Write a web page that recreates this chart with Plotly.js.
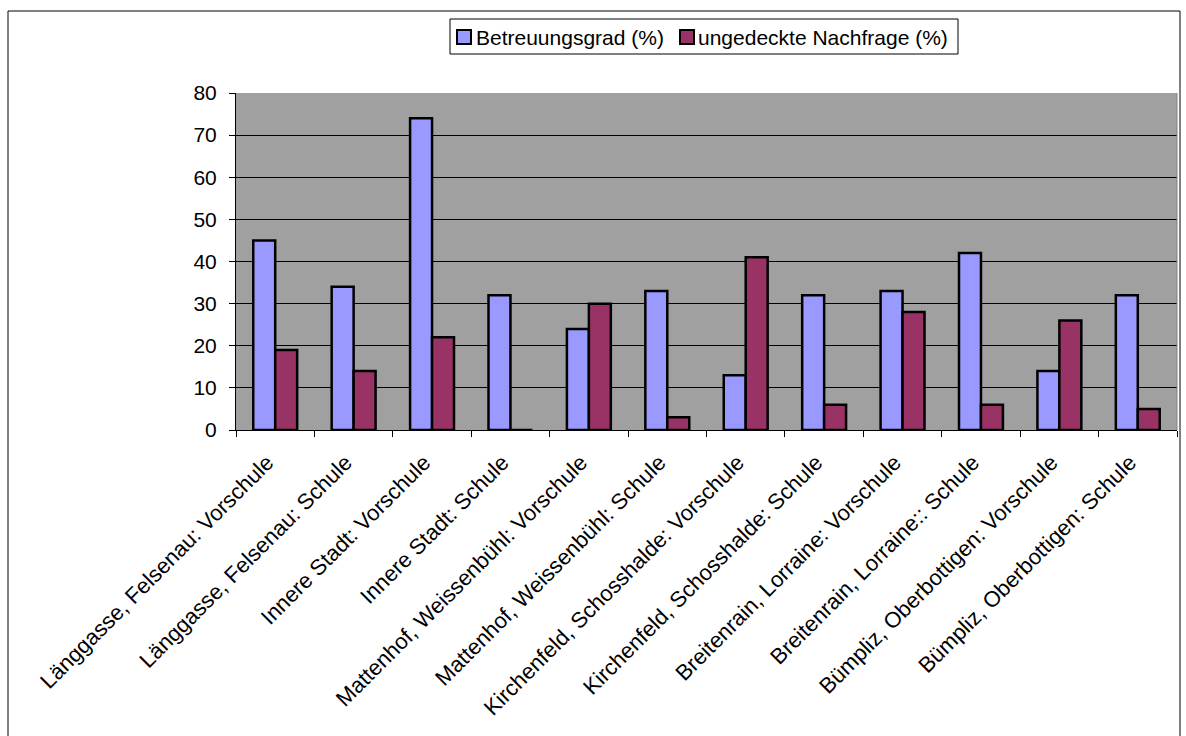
<!DOCTYPE html>
<html>
<head>
<meta charset="utf-8">
<script src="https://cdn.plot.ly/plotly-3.0.1.min.js"></script>
<style>
html,body{margin:0;padding:0;background:#fff;}
#chart{width:1186px;height:736px;}
</style>
</head>
<body>
<div id="chart"></div>
<script>
const categories = [
  "Länggasse, Felsenau: Vorschule",
  "Länggasse, Felsenau: Schule",
  "Innere Stadt: Vorschule",
  "Innere Stadt: Schule",
  "Mattenhof, Weissenbühl: Vorschule",
  "Mattenhof, Weissenbühl: Schule",
  "Kirchenfeld, Schosshalde: Vorschule",
  "Kirchenfeld, Schosshalde: Schule",
  "Breitenrain, Lorraine: Vorschule",
  "Breitenrain, Lorraine:: Schule",
  "Bümpliz, Oberbottigen: Vorschule",
  "Bümpliz, Oberbottigen: Schule"
];
const betreuungsgrad = [45, 34, 74, 32, 24, 33, 13, 32, 33, 42, 14, 32];
const ungedeckteNachfrage = [19, 14, 22, 0, 30, 3, 41, 6, 28, 6, 26, 5];
const seriesNames = ["Betreuungsgrad (%)", "ungedeckte Nachfrage (%)"];
const seriesColors = ["#9999FF", "#993366"];
const yTicks = [0, 10, 20, 30, 40, 50, 60, 70, 80];

const W = 1186, H = 736;
const L = 236, R = 1177, T = 93, B = 430;
const pw = R - L, ph = B - T;
function px(x){ return (x - L) / pw; }
function py(y){ return (B - y) / ph; }

const font = {family: "Liberation Sans, Arial, sans-serif", size: 21, color: "#000"};
const xfont = {family: "Liberation Sans, Arial, sans-serif", size: 22, color: "#000"};

const traces = [
  {type: "bar", name: seriesNames[0], x: categories, y: betreuungsgrad,
   marker: {color: seriesColors[0], line: {color: "#000", width: 2.5}}},
  {type: "bar", name: seriesNames[1], x: categories, y: ungedeckteNachfrage,
   marker: {color: seriesColors[1], line: {color: "#000", width: 2.5}}}
];

// manual legend (box, swatches, labels)
const legendShapes = [
  {type: "rect", xref: "paper", yref: "paper",
   x0: px(450), x1: px(958), y0: py(19), y1: py(54),
   line: {color: "#000", width: 1}, fillcolor: "#fff", layer: "above"},
  {type: "rect", xref: "paper", yref: "paper",
   x0: px(457), x1: px(471), y0: py(30), y1: py(44),
   line: {color: "#000", width: 2}, fillcolor: seriesColors[0], layer: "above"},
  {type: "rect", xref: "paper", yref: "paper",
   x0: px(680), x1: px(694), y0: py(30), y1: py(44),
   line: {color: "#000", width: 2}, fillcolor: seriesColors[1], layer: "above"}
];
const legendAnns = [
  {xref: "paper", yref: "paper", x: px(474), y: py(37), xanchor: "left", yanchor: "middle",
   text: seriesNames[0], showarrow: false, font: font},
  {xref: "paper", yref: "paper", x: px(696), y: py(37), xanchor: "left", yanchor: "middle",
   text: seriesNames[1], showarrow: false, font: font}
];

const layout = {
  width: W, height: H,
  margin: {l: L, r: W - R, t: T, b: H - B, pad: 0},
  paper_bgcolor: "#fff",
  plot_bgcolor: "#A0A0A0",
  font: font,
  barmode: "group",
  bargap: 0.44,
  bargroupgap: 0,
  showlegend: false,
  xaxis: {
    type: "category",
    tickangle: -45,
    ticks: "outside", ticklen: 6, tickcolor: "#000", tickwidth: 1,
    tickson: "boundaries",
    showline: true, linecolor: "#000", linewidth: 1,
    showgrid: false,
    tickfont: xfont,
    ticklabelstandoff: 10,
    ticklabelshift: -8,
    automargin: false
  },
  yaxis: {
    range: [0, 80],
    tickvals: yTicks,
    ticktext: yTicks.map(String),
    ticks: "outside", ticklen: 6, tickcolor: "#000", tickwidth: 1,
    showline: true, linecolor: "#000", linewidth: 1,
    showgrid: true, gridcolor: "#000", gridwidth: 1,
    zeroline: true, zerolinecolor: "#000", zerolinewidth: 1,
    tickfont: font,
    ticklabelstandoff: 8,
    automargin: false
  },
  annotations: legendAnns,
  shapes: [
    {type: "rect", xref: "paper", yref: "paper",
     x0: px(8), x1: px(1180), y0: py(11), y1: py(760),
     line: {color: "#000", width: 1}, fillcolor: "rgba(0,0,0,0)", layer: "below"},
    {type: "line", xref: "paper", yref: "paper",
     x0: 1, x1: 1, y0: 0, y1: 1,
     line: {color: "#808080", width: 1}, layer: "above"}
  ].concat(legendShapes)
};

Plotly.newPlot("chart", traces, layout, {displayModeBar: false, staticPlot: true});
</script>
</body>
</html>
